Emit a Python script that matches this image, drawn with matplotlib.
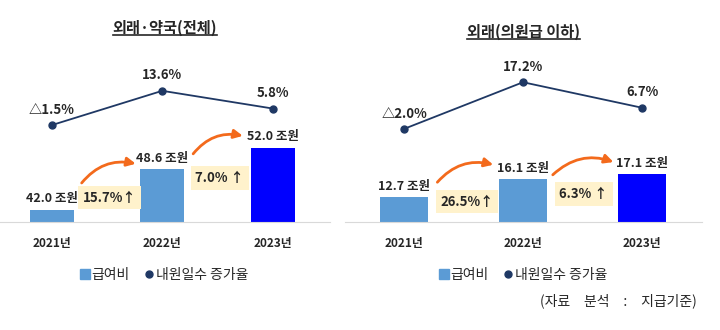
import matplotlib
matplotlib.use("Agg")
import matplotlib.pyplot as plt
from matplotlib.patches import Patch
from matplotlib.lines import Line2D

plt.rcParams['font.family'] = ['Noto Sans CJK KR', 'DejaVu Sans']

years = ['2021년', '2022년', '2023년']

left_title = '외래·약국(전체)'
left_cost = [42.0, 48.6, 52.0]
left_rate = [-1.5, 13.6, 5.8]
left_growth = ['15.7%↑', '7.0% ↑']

right_title = '외래(의원급 이하)'
right_cost = [12.7, 16.1, 17.1]
right_rate = [-2.0, 17.2, 6.7]
right_growth = ['26.5%↑', '6.3% ↑']

legend_labels = ['급여비', '내원일수 증가율']
source_note = '(자료\u3000분석\u3000:\u3000지급기준)'

W, H = 720, 330
LIGHT = '#5B9BD5'
DARK = '#0000FF'
NAVY = '#1F3864'
ORANGE = '#F36A1C'
TXT = '#262626'

fig = plt.figure(figsize=(W / 100, H / 100), dpi=100)


def rect(l, t, r, b):
    return [l / W, 1 - b / H, (r - l) / W, (b - t) / H]


def rate_label(v):
    return f'△{abs(v):.1f}%' if v < 0 else f'{v:.1f}%'


def draw_panel(box, xlim, bar_lim, line_lim, cost, rate, growth, title, title_y,
               box_pos, arrows, legend_x):
    ax = fig.add_axes(rect(*box))
    x = list(range(len(years)))
    ax.bar(x, [c - bar_lim[0] for c in cost], bottom=bar_lim[0], width=0.4,
           color=[LIGHT, LIGHT, DARK], zorder=2)
    ax.set_xlim(*xlim)
    ax.set_ylim(*bar_lim)
    for s in ['top', 'left', 'right']:
        ax.spines[s].set_visible(False)
    ax.spines['bottom'].set_color('#D9D9D9')
    ax.set_yticks([])
    ax.set_xticks(x, years, fontsize=8.5, fontweight='bold', color=TXT)
    ax.tick_params(axis='x', length=0, pad=11)
    for i, c in enumerate(cost):
        ax.annotate(f'{c:.1f} 조원', (i, c), xytext=(0, 3), textcoords='offset points',
                    ha='center', va='bottom', fontsize=9, fontweight='bold', color=TXT)
    for (gx, gy), g in zip(box_pos, growth):
        ax.text(gx, gy, g, ha='center', va='center', fontsize=9.5, fontweight='bold',
                color=TXT, bbox=dict(boxstyle='square,pad=0.35', fc='#FFF2CC', ec='none'))
    for (sx, sy), (ex, ey) in arrows:
        ax.annotate('', xy=(ex, ey), xytext=(sx, sy),
                    arrowprops=dict(arrowstyle='-|>', color=ORANGE, lw=2,
                                    mutation_scale=13,
                                    connectionstyle='arc3,rad=-0.3',
                                    shrinkA=0, shrinkB=0))

    lx = ax.twinx()
    lx.set_ylim(*line_lim)
    lx.plot(x, rate, color=NAVY, lw=1.3, marker='o', ms=5, zorder=3)
    lx.axis('off')
    for i, r in enumerate(rate):
        lx.annotate(rate_label(r), (i, r), xytext=(0, 6), textcoords='offset points',
                    ha='center', va='bottom', fontsize=9.5, fontweight='bold', color=TXT)

    cx = (box[0] + box[2]) / 2
    t = fig.text(cx / W, 1 - title_y / H, title, ha='center', va='center',
                 fontsize=11, fontweight='bold', color=TXT)

    handles = [Patch(color=LIGHT),
               Line2D([], [], color=NAVY, marker='o', ls='none', ms=5)]
    fig.legend(handles, legend_labels, loc='center', ncol=2, frameon=False,
               bbox_to_anchor=(legend_x / W, 1 - 275 / H), fontsize=10,
               handlelength=0.7, handleheight=0.7, handletextpad=0.15,
               columnspacing=1.0, labelcolor=TXT)
    return t


titles = []
titles.append(draw_panel((0, 20, 330, 222), (-0.47, 2.52), (40.0, 72.6), (-44.2, 44.8),
                         left_cost, left_rate, left_growth, left_title, 28,
                         [(0.525, 43.9), (1.52, 47.1)],
                         [((0.27, 46.3), (0.76, 49.4)), ((1.28, 51.0), (1.73, 53.9))],
                         164))
titles.append(draw_panel((345, 20, 702, 222), (-0.496, 2.504), (8.0, 46.1), (-40.3, 42.8),
                         right_cost, right_rate, right_growth, right_title, 32,
                         [(0.53, 11.8), (1.51, 13.3)],
                         [((0.28, 15.5), (0.75, 18.8)), ((1.25, 16.9), (1.76, 19.3))],
                         523))

fig.text(697 / W, 1 - 301 / H, source_note, ha='right', va='center',
         fontsize=10, color=TXT)

fig.canvas.draw()
for t in titles:
    bb = t.get_window_extent()
    fig.add_artist(Line2D([bb.x0 / W, bb.x1 / W], [(bb.y0 + 1) / H, (bb.y0 + 1) / H],
                          color=TXT, lw=1.2, transform=fig.transFigure))

fig.savefig('out.png', dpi=100)
